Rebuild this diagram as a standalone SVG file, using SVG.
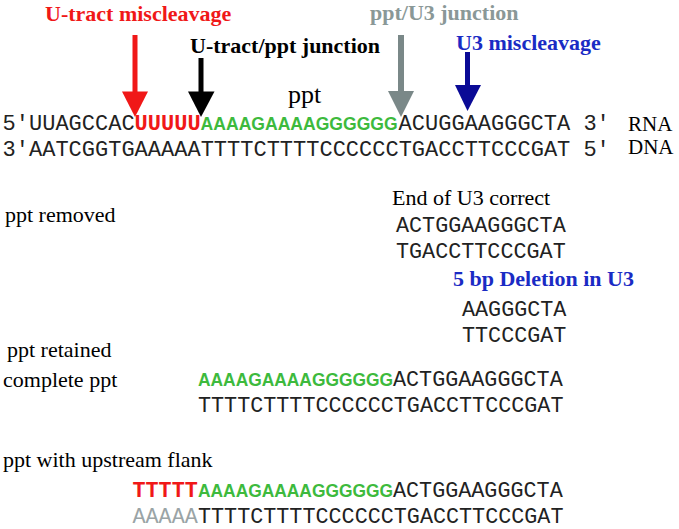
<svg xmlns="http://www.w3.org/2000/svg" width="679" height="529" viewBox="0 0 679 529">
<style>
.serif{font-family:"Liberation Serif","Times New Roman",serif;font-size:22px;fill:#000}
.b{font-weight:bold}
.mono{font-family:"Liberation Mono","Courier New",monospace;font-size:22px;fill:#222}
.monos{font-family:"Liberation Mono","Courier New",monospace;font-size:21.75px;fill:#222}
.mb{font-weight:bold}
.green{font-family:"Liberation Sans",Arial,sans-serif;font-weight:bold;font-size:18px;fill:#3dba3d}
.red{fill:#f01818}
.gray{fill:#8a9897}
.blue{fill:#1a2bc4}
.lgray{fill:#9aa4a6}
</style>
<rect width="679" height="529" fill="#fff"/>

<g id="connectors">
  <rect x="132.5" y="35" width="5" height="58" fill="#f01818"/>
  <polygon points="122,91.5 148,91.5 135,117" fill="#f01818"/>
  <rect x="198.5" y="58" width="5" height="35" fill="#000"/>
  <polygon points="188,91.5 214.5,91.5 201,117" fill="#000"/>
  <rect x="398" y="35" width="6" height="57" fill="#7a8888"/>
  <polygon points="388,91 414,91 401,117" fill="#7a8888"/>
  <rect x="465" y="52" width="5" height="34" fill="#0a0a96"/>
  <polygon points="455,85 481,85 467.5,111" fill="#0a0a96"/>
</g>

<g id="label-utract-miscleavage"><text class="serif b red" x="45" y="21">U-tract miscleavage</text></g>
<g id="label-utract-ppt-junction"><text class="serif b" x="190" y="53">U-tract/ppt junction</text></g>
<g id="label-ppt-u3-junction"><text class="serif b gray" x="370" y="20">ppt/U3 junction</text></g>
<g id="label-u3-miscleavage"><text class="serif b blue" x="456" y="50">U3 miscleavage</text></g>
<g id="label-ppt"><text class="serif" x="288" y="103" style="font-size:26px">ppt</text></g>

<g id="rna-strand">
  <text class="mono" x="2.6" y="130">5′</text>
  <text class="mono" x="29" y="130">UUAGCCAC</text>
  <text class="mono mb red" x="134.6" y="130">UUUUU</text>
  <text class="green" x="200.6" y="130" textLength="197" lengthAdjust="spacingAndGlyphs">AAAAGAAAAGGGGGG</text>
  <text class="mono" x="398.6" y="130">ACUGGAAGGGCTA</text>
  <text class="mono" x="583.4" y="130">3′</text>
  <text class="serif" x="628" y="131" style="font-size:21px">RNA</text>
</g>
<g id="dna-strand">
  <text class="mono" x="2.6" y="156">3′</text>
  <text class="mono" x="29" y="156">AATCGGTGAAAAATTTTCTTTTCCCCCCTGACCTTCCCGAT</text>
  <text class="mono" x="583.4" y="156">5′</text>
  <text class="serif" x="628" y="154" style="font-size:21px">DNA</text>
</g>

<g id="ppt-removed">
  <text class="serif" x="5" y="222">ppt removed</text>
  <text class="serif" x="392" y="205">End of U3 correct</text>
  <text class="monos" x="396" y="232">ACTGGAAGGGCTA</text>
  <text class="monos" x="396" y="258">TGACCTTCCCGAT</text>
  <text class="serif b blue" x="453" y="286">5 bp Deletion in U3</text>
  <text class="monos" x="462" y="316">AAGGGCTA</text>
  <text class="monos" x="462" y="342">TTCCCGAT</text>
</g>

<g id="ppt-retained">
  <text class="serif" x="7" y="357">ppt retained</text>
</g>

<g id="complete-ppt">
  <text class="serif" x="3" y="387">complete ppt</text>
  <text class="green" x="198" y="386" textLength="195" lengthAdjust="spacingAndGlyphs">AAAAGAAAAGGGGGG</text>
  <text class="monos" x="393" y="386">ACTGGAAGGGCTA</text>
  <text class="monos" x="198" y="412">TTTTCTTTTCCCCCCTGACCTTCCCGAT</text>
</g>

<g id="ppt-upstream-flank">
  <text class="serif" x="3" y="467">ppt with upstream flank</text>
  <text class="monos mb red" x="132.5" y="497">TTTTT</text>
  <text class="green" x="198" y="497" textLength="195" lengthAdjust="spacingAndGlyphs">AAAAGAAAAGGGGGG</text>
  <text class="monos" x="393" y="497">ACTGGAAGGGCTA</text>
  <text class="monos lgray" x="132.5" y="523">AAAAA</text>
  <text class="monos" x="198" y="523">TTTTCTTTTCCCCCCTGACCTTCCCGAT</text>
</g>
</svg>
